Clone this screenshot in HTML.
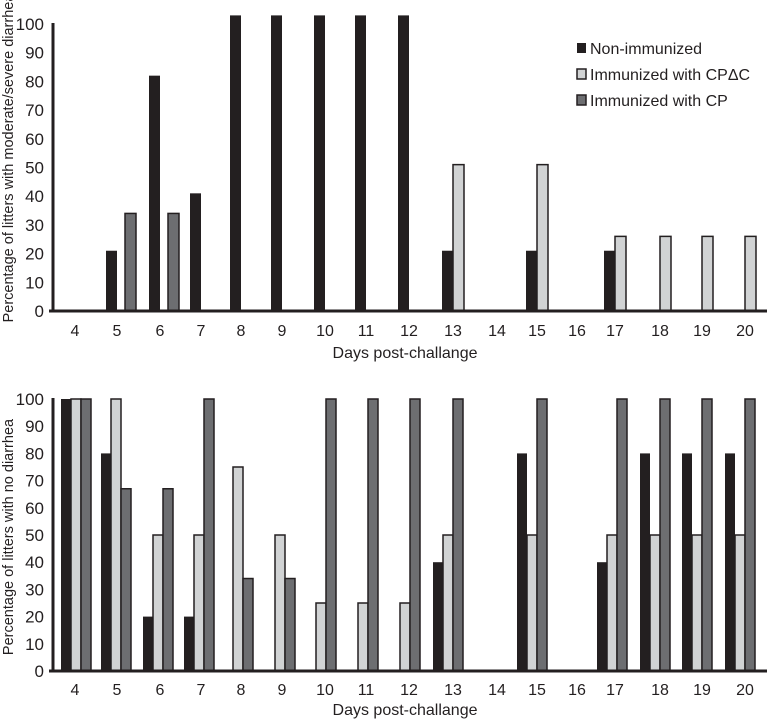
<!DOCTYPE html>
<html><head><meta charset="utf-8"><style>
html,body{margin:0;padding:0;background:#fff;}
svg{display:block;font-family:"Liberation Sans",sans-serif;}
</style></head><body>
<svg id="chart" width="767" height="719" viewBox="0 0 767 719" xmlns="http://www.w3.org/2000/svg"></svg>
<script>
const days = [4,5,6,7,8,9,10,11,12,13,14,15,16,17,18,19,20];
const dayCenters = [75,117,160,201,241,282,325,366,409,453,497,537,577,615,660,702,745];
const botCenters = [81,121,163,204,243,285,326,368,410,453,497,537,577,617,660,702,745];
const topNon = [0,21,82,41,103,103,103,103,103,21,0,21,0,21,0,0,0];
const topCPdC = [0,0,0,0,0,0,0,0,0,51,0,51,0,26,26,26,26];
const topCP = [0,34,34,0,0,0,0,0,0,0,0,0,0,0,0,0,0];
const botNon = [100,80,20,20,0,0,0,0,0,40,0,80,0,40,80,80,80];
const botCPdC = [100,100,50,50,75,50,25,25,25,50,0,50,0,50,50,50,50];
const botCP = [100,67,67,100,34,34,100,100,100,100,0,100,0,100,100,100,100];
const yTicks = [0,10,20,30,40,50,60,70,80,90,100];

const svg = document.getElementById('chart');
const NS = 'http://www.w3.org/2000/svg';
function mk(tag, attrs, parent){
  const e = document.createElementNS(NS, tag);
  for (const k in attrs) e.setAttribute(k, attrs[k]);
  (parent||svg).appendChild(e);
  return e;
}
const colors = ['#231f20','#d1d3d4','#6d6e71'];

function panel(p){
  const g = mk('g', {});
  
  
  const y = v => p.y0 - v*(p.y0-p.y100)/100;
  yTicks.forEach(t=>{
    const tx = mk('text',{x:44,y:y(t)+6,'text-anchor':'end','font-size':17,fill:'#231f20'},g);
    tx.textContent = t;
    
    
  });
  const series = [p.s0,p.s1,p.s2];
  series.forEach((arr,si)=>{
    arr.forEach((v,i)=>{
      if (v<=0) return;
      const x = p.centers[i] + p.off[si];
      const r = mk('rect',{x:x,y:y(v),width:p.w,height:p.y0-y(v),fill:colors[si],stroke:'#231f20','stroke-width':si===0?0:1.5},g);
      
      
    });
  });
  const ya = mk('line',{x1:53,y1:p.y100-1,x2:53,y2:p.y0+1,stroke:'#231f20','stroke-width':3},g);
  
  
  const xa = mk('line',{x1:49,y1:p.y0,x2:767,y2:p.y0,stroke:'#231f20','stroke-width':3},g);
  
  
  days.forEach((d,i)=>{
    const tx = mk('text',{x:dayCenters[i],y:p.y0+p.lblDy,'text-anchor':'middle','font-size':16,fill:'#231f20'},g);
    tx.textContent = d;
    
    
  });
  const xt = mk('text',{x:405,y:p.y0+p.titleDy,'text-anchor':'middle','font-size':16,fill:'#231f20'},g);
  xt.textContent = 'Days post-challange';
  
  
  const yt = mk('text',{x:0,y:0,'text-anchor':'middle','font-size':14.5,fill:'#231f20',transform:'translate(13,'+p.titleY+') rotate(-90)'},g);
  yt.textContent = p.title;
  
  
}
panel({name:'top-panel',y0:311,y100:24,s0:topNon,s1:topCPdC,s2:topCP,off:[-11,0,8],w:11,centers:dayCenters,lblDy:25,titleDy:47,
  title:'Percentage of litters with moderate/severe diarrhea',titleY:158});
panel({name:'bottom-panel',y0:671,y100:399,s0:botNon,s1:botCPdC,s2:botCP,off:[-20,-10,0],w:10,centers:botCenters,lblDy:24,titleDy:44,
  title:'Percentage of litters with no diarrhea',titleY:537});

const legendLabels = ['Non-immunized','Immunized with CP\u0394C','Immunized with CP'];
const lg = mk('g',{});


legendLabels.forEach((l,i)=>{
  const cy = 48 + i*26;
  const r = mk('rect',{x:577,y:cy-5,width:9,height:10,fill:colors[i],stroke:'#231f20','stroke-width':i===0?0:1.5},lg);
  
  
  const t = mk('text',{x:590,y:cy+6,'font-size':16,fill:'#231f20'},lg);
  t.textContent = l;
  
  
});
</script>
</body></html>
